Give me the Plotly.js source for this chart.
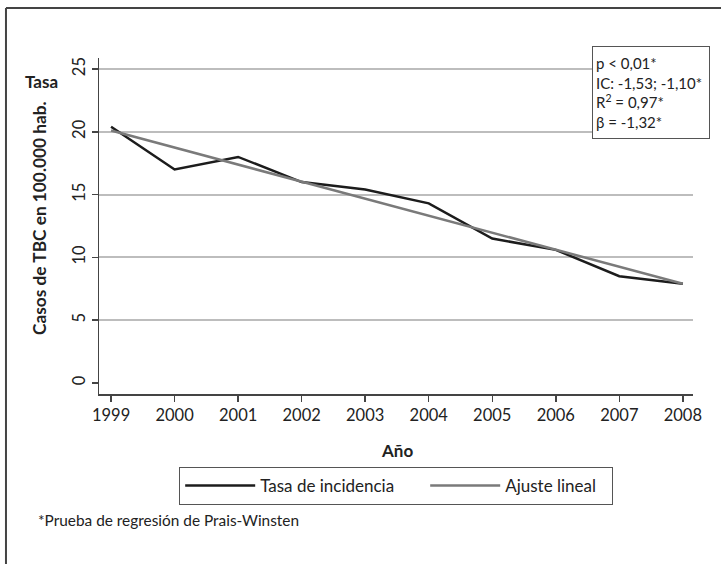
<!DOCTYPE html>
<html>
<head>
<meta charset="utf-8">
<script src="https://cdn.plot.ly/plotly-3.0.1.min.js"></script>
<style>
  html, body { margin: 0; padding: 0; background: #fff; }
  #chart { width: 721px; height: 564px; }
</style>
</head>
<body>
<div id="chart"></div>
<script>
// Data
const years = [1999, 2000, 2001, 2002, 2003, 2004, 2005, 2006, 2007, 2008];
const tasaIncidencia = [20.4, 17.0, 18.0, 16.0, 15.4, 14.3, 11.5, 10.6, 8.5, 7.9];
const ajusteYears = [1999, 2008];
const ajusteLineal = [20.1, 7.9];
const yTickVals = [0, 5, 10, 15, 20, 25];
const gridVals = [5, 10, 15, 20, 25];
const seriesNames = ['Tasa de incidencia', 'Ajuste lineal'];
const statsLines = ['p &lt; 0,01*', 'IC: -1,53; -1,10*', 'R<sup>2</sup> = 0,97*', 'β = -1,32*'];

const FONT = 'Lato, "Open Sans", sans-serif';
const yRange = [-0.88, 25.88];

const traces = [
  {
    x: years, y: tasaIncidencia, name: seriesNames[0],
    type: 'scatter', mode: 'lines', yaxis: 'y',
    line: { color: '#1c1c1c', width: 2.5 },
    legendwidth: 160,
    hoverinfo: 'skip'
  },
  {
    x: ajusteYears, y: ajusteLineal, name: seriesNames[1],
    type: 'scatter', mode: 'lines', yaxis: 'y2',
    line: { color: '#7a7a7a', width: 2.5 },
    legendwidth: 102,
    hoverinfo: 'skip'
  }
];

const layout = {
  width: 721, height: 564,
  paper_bgcolor: '#ffffff', plot_bgcolor: '#ffffff',
  margin: { l: 99, r: 28, t: 58, b: 170, pad: 0 },
  font: { family: FONT, size: 16, color: '#222' },
  showlegend: true,
  legend: {
    orientation: 'h',
    x: 0.135, xanchor: 'left',
    y: -0.217, yanchor: 'top',
    bordercolor: '#555', borderwidth: 1,
    font: { family: FONT, size: 17, color: '#222' },
    itemwidth: 70,
    tracegroupgap: 0
  },
  xaxis: {
    range: [1998.81, 2008.16],
    tickmode: 'array', tickvals: years, ticktext: years.map(String),
    showgrid: false, zeroline: false,
    showline: true, linecolor: '#444', linewidth: 1.5,
    ticks: 'outside', ticklen: 6, tickcolor: '#444', tickwidth: 1.5,
    tickfont: { family: FONT, size: 16.5, color: '#222' },
    fixedrange: true
  },
  yaxis: {
    range: yRange,
    tickmode: 'array', tickvals: yTickVals, ticktext: yTickVals.map(String),
    tickangle: -90,
    showgrid: false, zeroline: false,
    showline: true, linecolor: '#444', linewidth: 1.5,
    ticks: 'outside', ticklen: 6, tickcolor: '#444', tickwidth: 1.5,
    tickfont: { family: FONT, size: 16.5, color: '#222' },
    fixedrange: true
  },
  yaxis2: {
    overlaying: 'y', side: 'left', anchor: 'x',
    range: yRange,
    tickmode: 'array', tickvals: gridVals,
    showticklabels: false, ticks: '',
    showgrid: true, gridcolor: '#bdbdbd', gridwidth: 2,
    zeroline: false, showline: false, fixedrange: true
  },
  annotations: [
    { // y-axis title
      xref: 'paper', yref: 'paper', x: -0.0993, y: 0.524,
      xanchor: 'center', yanchor: 'middle', textangle: -90,
      text: '<b>Casos de TBC en 100.000 hab.</b>', showarrow: false,
      font: { family: FONT, size: 17.3, color: '#222' }
    },
    { // "Tasa"
      xref: 'paper', yref: 'paper', x: -0.096, y: 0.9286,
      xanchor: 'center', yanchor: 'middle',
      text: '<b>Tasa</b>', showarrow: false,
      font: { family: FONT, size: 17, color: '#222' }
    },
    { // x-axis title
      xref: 'paper', yref: 'paper', x: 0.502, y: -0.167,
      xanchor: 'center', yanchor: 'middle',
      text: '<b>Año</b>', showarrow: false,
      font: { family: FONT, size: 17, color: '#222' }
    },
    { // stats box
      xref: 'paper', yref: 'paper', x: 0.830, y: 1.0357,
      xanchor: 'left', yanchor: 'top',
      text: statsLines.join('<br>'), align: 'left', valign: 'middle',
      showarrow: false, width: 110, height: 85,
      bordercolor: '#555', borderwidth: 1, borderpad: 3, bgcolor: '#ffffff',
      font: { family: FONT, size: 15, color: '#222' }
    },
    { // footnote
      xref: 'paper', yref: 'paper', x: -0.106, y: -0.375,
      xanchor: 'left', yanchor: 'middle',
      text: '*Prueba de regresión de Prais-Winsten', showarrow: false,
      font: { family: FONT, size: 15.4, color: '#222' }
    }
  ],
  shapes: [
    { type: 'line', xref: 'paper', yref: 'paper', x0: -0.1566, x1: 1.1, y0: 1.1488, y1: 1.1488,
      line: { color: '#444', width: 2 } },
    { type: 'line', xref: 'paper', yref: 'paper', x0: -0.1566, x1: -0.1566, y0: 1.1488, y1: -0.6,
      line: { color: '#444', width: 2 } }
  ]
};

Plotly.newPlot('chart', traces, layout, { displayModeBar: false, staticPlot: true });
</script>
</body>
</html>
